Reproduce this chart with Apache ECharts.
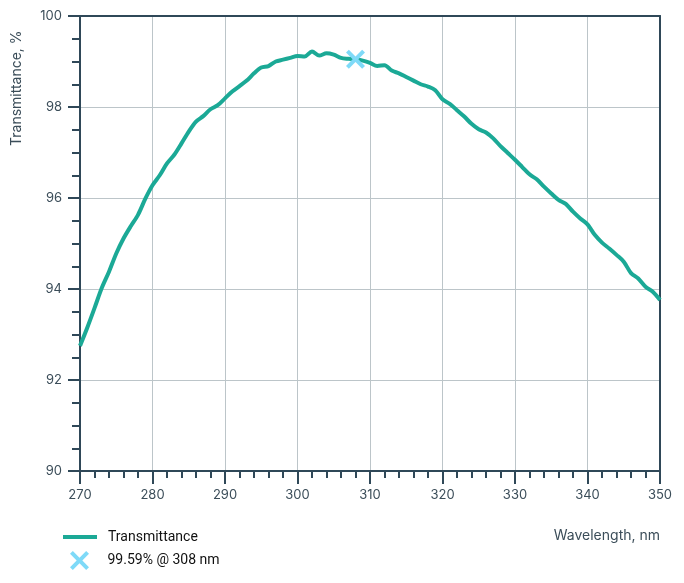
<!DOCTYPE html>
<html>
<head>
<meta charset="utf-8">
<script src="https://cdn.jsdelivr.net/npm/echarts@6/dist/echarts.min.js"></script>
<style>html,body{margin:0;padding:0;background:#fff;}#c{width:684px;height:583px;}</style>
</head>
<body>
<div id="c"></div>
<script>
// wavelength (nm)
const wavelengths = [270,271,272,273,274,275,276,277,278,279,280,281,282,283,284,285,286,287,288,289,290,291,292,293,294,295,296,297,298,299,300,301,302,303,304,305,306,307,308,309,310,311,312,313,314,315,316,317,318,319,320,321,322,323,324,325,326,327,328,329,330,331,332,333,334,335,336,337,338,339,340,341,342,343,344,345,346,347,348,349,350];
// transmittance (%)
const transmittance = [92.75,93.15,93.58,94.02,94.38,94.78,95.11,95.38,95.63,95.98,96.28,96.50,96.76,96.95,97.20,97.46,97.68,97.80,97.95,98.04,98.19,98.34,98.46,98.58,98.74,98.87,98.90,99.00,99.04,99.08,99.12,99.11,99.22,99.13,99.18,99.15,99.08,99.06,99.05,99.02,98.97,98.90,98.92,98.80,98.74,98.66,98.58,98.50,98.45,98.37,98.17,98.07,97.93,97.79,97.63,97.51,97.44,97.31,97.14,96.99,96.84,96.68,96.52,96.41,96.25,96.10,95.96,95.87,95.70,95.55,95.42,95.19,95.02,94.89,94.75,94.60,94.35,94.23,94.05,93.94,93.76];
// marked point
const markerLabel = '99.59% @ 308 nm';
const markerPoint = [308, 99.05];
const seriesName = 'Transmittance';
const xName = 'Wavelength, nm';
const yName = 'Transmittance, %';

const axisColor = '#2f4858';
const textColor = '#3b4d59';
const gridColor = '#bcc5c9';
const lineColor = '#1ba996';
const markColor = '#7fdaf8';
const xPath = 'path://M3,0 L10,7 L17,0 L20,3 L13,10 L20,17 L17,20 L10,13 L3,20 L0,17 L7,10 L0,3 Z';

const chart = echarts.init(document.getElementById('c'), null, {renderer: 'canvas'});
chart.setOption({
  animation: false,
  backgroundColor: '#ffffff',
  grid: {left: 80, right: 24, top: 16, bottom: 112, containLabel: false},
  xAxis: [{
    type: 'value', min: 270, max: 350, interval: 10,
    axisLine: {show: true, lineStyle: {color: axisColor, width: 2}},
    axisTick: {show: true, length: 13, lineStyle: {color: axisColor, width: 2}},
    minorTick: {show: true, splitNumber: 5, length: 7, lineStyle: {color: axisColor, width: 2}},
    axisLabel: {color: textColor, fontFamily: 'Inter', fontSize: 13, margin: 18},
    splitLine: {show: true, lineStyle: {color: gridColor, width: 1}}
  }, {
    type: 'value', position: 'top', min: 270, max: 350, interval: 10,
    axisLine: {show: true, onZero: false, lineStyle: {color: axisColor, width: 2}},
    axisTick: {show: false}, axisLabel: {show: false}, splitLine: {show: false}
  }],
  yAxis: [{
    type: 'value', min: 90, max: 100, interval: 2,
    axisLine: {show: true, lineStyle: {color: axisColor, width: 2}},
    axisTick: {show: true, length: 12, lineStyle: {color: axisColor, width: 2}},
    minorTick: {show: true, splitNumber: 4, length: 8, lineStyle: {color: axisColor, width: 2}},
    axisLabel: {color: textColor, fontFamily: 'Inter', fontSize: 13, margin: 18},
    splitLine: {show: true, lineStyle: {color: gridColor, width: 1}}
  }, {
    type: 'value', position: 'right', min: 90, max: 100, interval: 2,
    axisLine: {show: true, onZero: false, lineStyle: {color: axisColor, width: 2}},
    axisTick: {show: false}, axisLabel: {show: false}, splitLine: {show: false}
  }],
  legend: [{
    orient: 'vertical', left: 58, top: 525, itemWidth: 34, itemHeight: 4, itemGap: 0,
    textStyle: {color: '#111', fontFamily: 'Roboto', fontSize: 14, padding: [0, 0, 0, 6]},
    data: [{name: seriesName, icon: 'rect'}]
  }, {
    orient: 'vertical', left: 65, top: 546, itemWidth: 20, itemHeight: 19,
    textStyle: {color: '#111', fontFamily: 'Roboto', fontSize: 14, padding: [0, 0, 0, 13]},
    data: [markerLabel]
  }],
  series: [{
    name: seriesName, type: 'line', xAxisIndex: 0, yAxisIndex: 0,
    data: wavelengths.map((w, i) => [w, transmittance[i]]),
    showSymbol: false, symbol: 'none', smooth: 0.3,
    lineStyle: {color: lineColor, width: 4}, itemStyle: {color: lineColor}, z: 3
  }, {
    name: markerLabel, type: 'scatter', xAxisIndex: 0, yAxisIndex: 0,
    data: [markerPoint], symbol: xPath, symbolSize: 19, symbolKeepAspect: true,
    itemStyle: {color: markColor, opacity: 1}, z: 4
  }],
  graphic: [{
    type: 'text',
    style: {text: yName, fill: textColor, font: '14px Inter'},
    rotation: Math.PI / 2, x: 10, y: 146
  }, {
    type: 'text', right: 24, top: 529,
    style: {text: xName, fill: textColor, font: '14px Inter'}
  }]
});
</script>
</body>
</html>
